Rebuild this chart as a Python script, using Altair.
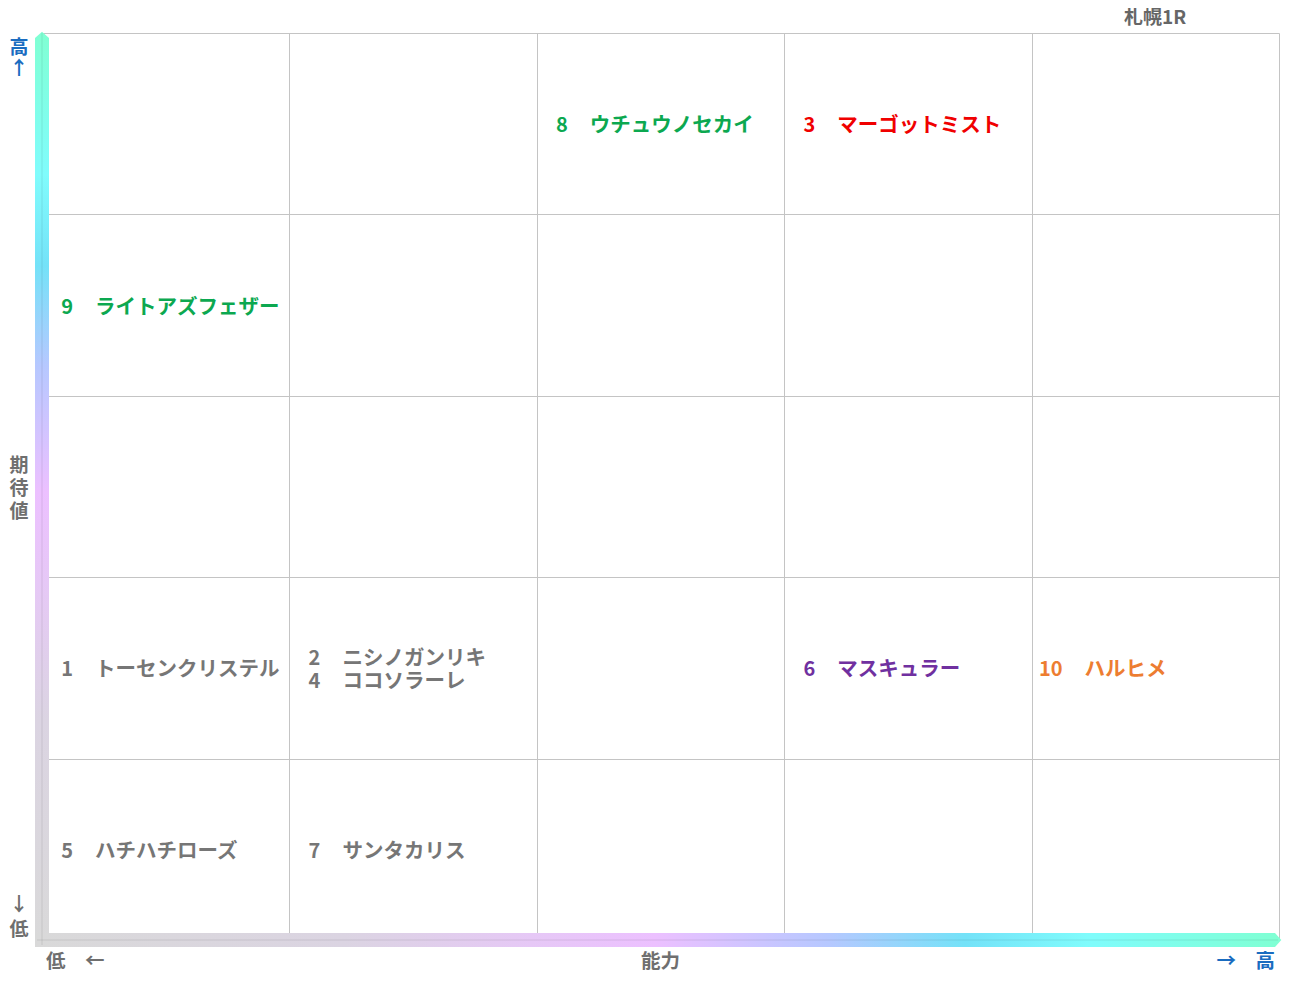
import altair as alt
import pandas as pd

# ---- data ----
nums = [1, 2, 3, 4, 5, 6, 7, 8, 9, 10]
names = ["トーセンクリステル", "ニシノガンリキ", "マーゴットミスト", "ココソラーレ",
         "ハチハチローズ", "マスキュラー", "サンタカリス", "ウチュウノセカイ",
         "ライトアズフェザー", "ハルヒメ"]
ability = [0, 1, 3, 1, 0, 3, 1, 2, 0, 4]   # 能力 column (0 = 低 … 4 = 高)
expect = [1, 1, 4, 1, 0, 1, 0, 4, 3, 1]    # 期待値 row (0 = 低 … 4 = 高)
GRAY, RED, GREEN, PURPLE, ORANGE = "#767676", "#f00000", "#0ca850", "#7030a0", "#ed7d31"
colors = [GRAY, GRAY, RED, GRAY, GRAY, PURPLE, GRAY, GREEN, GREEN, ORANGE]
grid_values = [0, 1, 2, 3, 4, 5]
title_text = "札幌1R"

W, H = 1237, 907
LINE_H = 23  # px between stacked names in one cell

# ---- build per-line labels, stacked & centred inside their cell ----
df = pd.DataFrame({"num": nums, "name": names, "ab": ability, "ex": expect, "color": colors})
df = df.sort_values("num").reset_index(drop=True)
df["numtxt"] = df["num"].astype(str)
df["k"] = df.groupby(["ab", "ex"]).cumcount()
df["n"] = df.groupby(["ab", "ex"])["num"].transform("count")
df["ypos"] = df["ex"] + 0.5 - (df["k"] - (df["n"] - 1) / 2) * LINE_H / (H / 5)

FONT = "Noto Sans CJK JP"
LBL = "#6f6f6f"
BLUE = "#1a6cc0"

stops_h = [
    alt.GradientStop(offset=0.0, color="#d9d9d9"),
    alt.GradientStop(offset=0.25, color="#dbd4e2"),
    alt.GradientStop(offset=0.40, color="#e6c8f6"),
    alt.GradientStop(offset=0.50, color="#ecc0ff"),
    alt.GradientStop(offset=0.64, color="#b6c8ff"),
    alt.GradientStop(offset=0.75, color="#74e2f8"),
    alt.GradientStop(offset=0.85, color="#80fcfc"),
    alt.GradientStop(offset=1.0, color="#80ffd4"),
]
stops_v = [alt.GradientStop(offset=round(1 - s.offset, 3), color=s.color) for s in reversed(stops_h)]

one = pd.DataFrame({"k": [0]})

xs = alt.Scale(domain=[0, 5], nice=False, zero=False)
ys = alt.Scale(domain=[0, 5], nice=False, zero=False)
ax = alt.Axis(values=grid_values, grid=True, gridColor="#c4c4c4", gridWidth=1,
              labels=False, ticks=False, domain=False, title=None)

base = alt.Chart(df).encode(
    x=alt.X("ab:Q", scale=xs, axis=ax),
    y=alt.Y("ypos:Q", scale=ys, axis=ax),
    color=alt.Color("color:N", scale=None),
)
num_labels = base.mark_text(
    align="right", baseline="middle", dx=31, dy=2.5, font=FONT, fontWeight="bold", fontSize=20
).encode(text="numtxt:N")
name_labels = base.mark_text(
    align="left", baseline="middle", dx=53, dy=2.5, font=FONT, fontWeight="bold", fontSize=20.5
).encode(text="name:N")

vbar = alt.Chart(one).mark_rect(
    color=alt.LinearGradient(gradient="linear", stops=stops_v, x1=0, x2=0, y1=0, y2=1),
    strokeWidth=0
).encode(x=alt.value(-7), x2=alt.value(7), y=alt.value(5), y2=alt.value(914))

hbar = alt.Chart(one).mark_rect(
    color=alt.LinearGradient(gradient="linear", stops=stops_h, x1=0, x2=1, y1=0, y2=0),
    strokeWidth=0
).encode(x=alt.value(-7), x2=alt.value(1233), y=alt.value(900), y2=alt.value(914))

vtip = alt.Chart(one).mark_point(
    shape="M-1,0L0,-0.9L1,0Z", size=196, filled=True, fill="#80ffd4", opacity=1, strokeWidth=0
).encode(x=alt.value(0), y=alt.value(5))

htip = alt.Chart(one).mark_point(
    shape="M0,-1L0.9,0L0,1Z", size=196, filled=True, fill="#80ffd4", opacity=1, strokeWidth=0
).encode(x=alt.value(1233), y=alt.value(907))

vline = alt.Chart(one).mark_rule(color="#000000", opacity=0.09, strokeWidth=1).encode(
    x=alt.value(0), y=alt.value(0), y2=alt.value(912))
hline = alt.Chart(one).mark_rule(color="#000000", opacity=0.09, strokeWidth=1).encode(
    x=alt.value(-5), x2=alt.value(1236), y=alt.value(907))


def note(text, x, y, color, align="center", size=20):
    return alt.Chart(one).mark_text(
        text=text, align=align, baseline="middle", font=FONT, fontWeight="bold",
        fontSize=size, color=color
    ).encode(x=alt.value(x), y=alt.value(y))


notes = [
    note(title_text, 1113, -15, "#666666", size=19),
    note("能力", 618.5, 929, LBL, size=19.5),
    note("低　←", 4, 929, LBL, align="left", size=19.5),
    note("→　高", 1233, 929, BLUE, align="right", size=19.5),
    note("高", -23, 15, BLUE, size=19),
    note("↑", -23, 36, BLUE, size=19),
    note("期", -23, 433, LBL, size=19),
    note("待", -23, 456, LBL, size=19),
    note("値", -23, 479, LBL, size=19),
    note("↓", -23, 872, LBL, size=19),
    note("低", -23, 897, LBL, size=19),
]

chart = alt.layer(num_labels, name_labels, vbar, hbar, vtip, htip, vline, hline, *notes).properties(
    width=W, height=H,
    autosize=alt.AutoSizeParams(type="none"),
    padding={"left": 34, "top": 25, "right": 4, "bottom": 33},
).configure_view(strokeWidth=0)

chart.save("out.html", embed_options={"renderer": "svg", "actions": False})
